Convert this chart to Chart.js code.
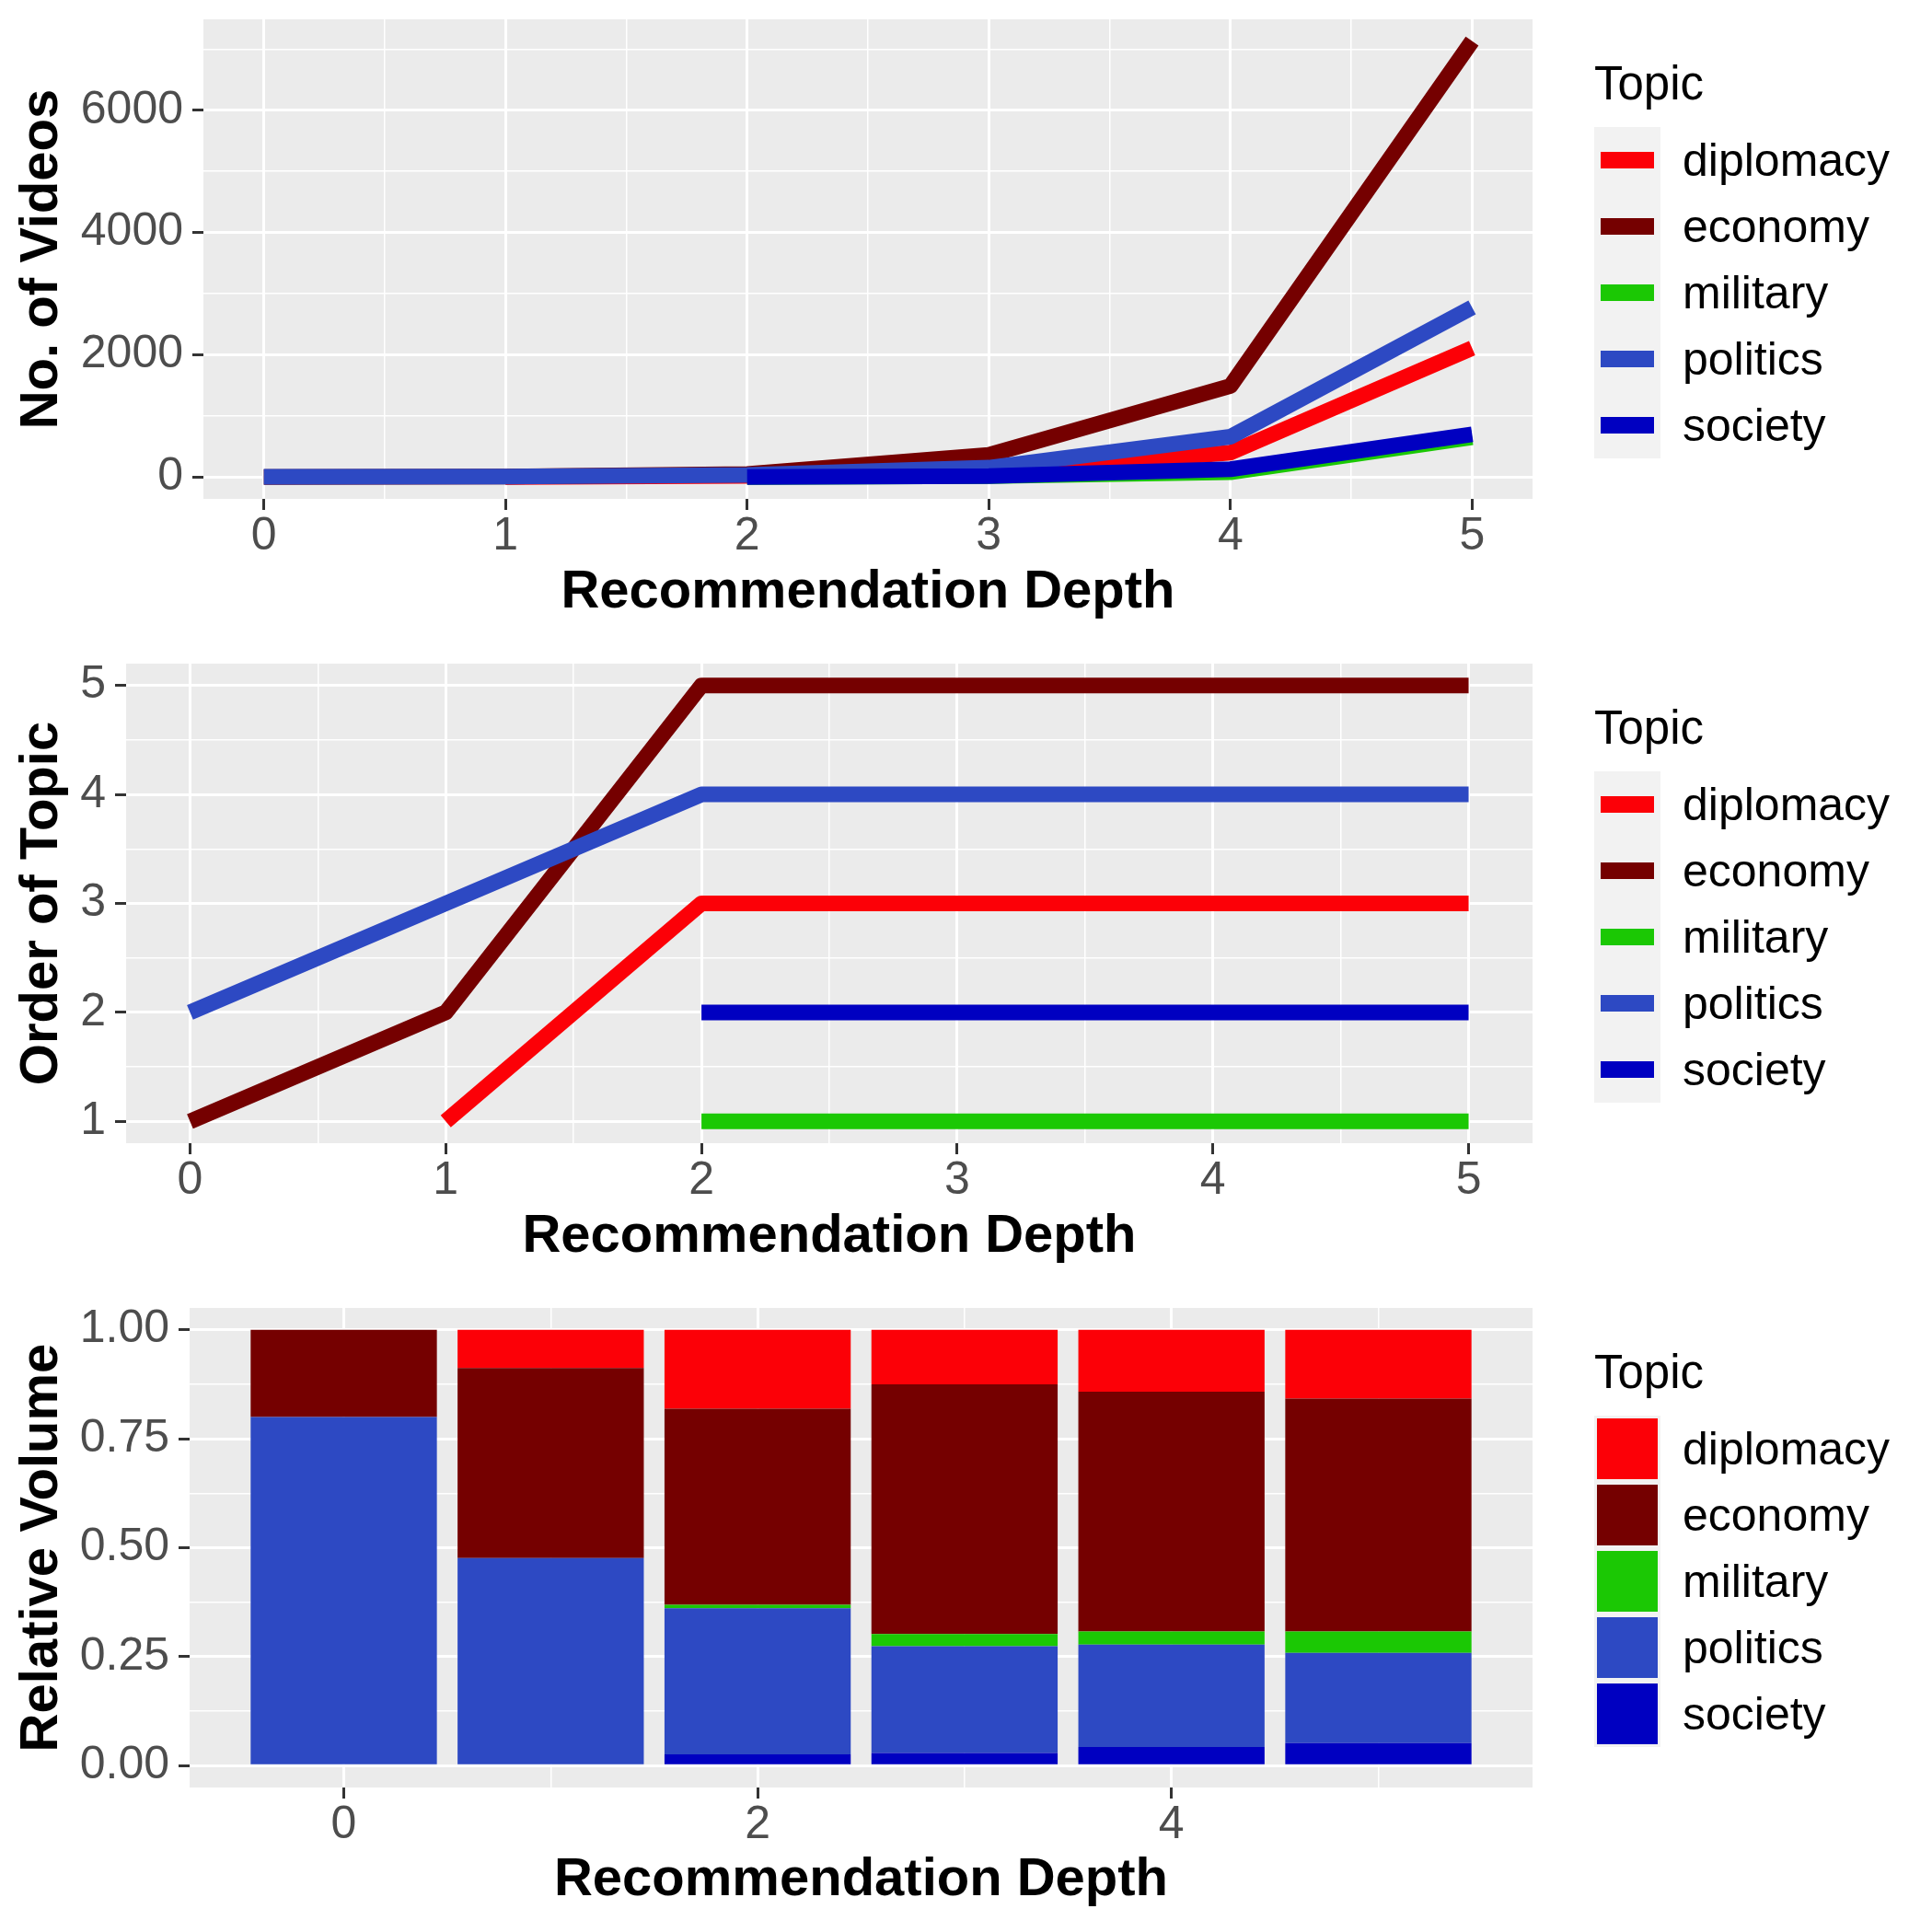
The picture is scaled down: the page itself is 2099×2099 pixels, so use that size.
<!DOCTYPE html>
<html>
<head>
<meta charset="utf-8">
<script src="https://cdn.jsdelivr.net/npm/chart.js@4"></script>
<style>
html,body{margin:0;padding:0;background:#ffffff;}
#page{position:relative;width:2099px;height:2099px;overflow:hidden;font-family:"Liberation Sans",Arial,Helvetica,sans-serif;}
#page canvas{position:absolute;left:0;}
.legend{position:absolute;left:1732px;width:360px;height:440px;}
.ltitle{position:absolute;left:0;top:0;font-size:51px;line-height:50px;color:#000;white-space:nowrap;}
.row{position:absolute;left:0;height:72px;width:360px;}
.key{position:absolute;left:0;top:0;width:72px;height:72px;background:#F2F2F2;}
.kline{position:absolute;left:7px;top:27px;width:58px;height:18px;}
.kfill{position:absolute;left:3px;top:3px;width:66px;height:66px;}
.lab{position:absolute;left:96px;top:0;height:72px;display:flex;align-items:center;font-size:50px;color:#000;white-space:nowrap;}
</style>
</head>
<body>
<div id="page">
  <canvas id="c1" width="2099" height="700" style="top:0px;width:2099px;height:700px"></canvas>
  <canvas id="c2" width="2099" height="700" style="top:700px;width:2099px;height:700px"></canvas>
  <canvas id="c3" width="2099" height="699" style="top:1400px;width:2099px;height:699px"></canvas>
</div>
<script>
// ---------- data ----------
const depths = [0, 1, 2, 3, 4, 5];
const topics = ['diplomacy', 'economy', 'military', 'politics', 'society'];
const topicColors = ['#FC0007', '#750000', '#1BC804', '#2D49C3', '#0000C1'];

// Panel 1: No. of Videos per recommendation depth
const diplomacyVideos = [null, 2, 20, 79, 400, 2110];
const economyVideos   = [1, 10, 50, 363, 1490, 7130];
const militaryVideos  = [null, null, 1, 18, 80, 650];
const politicsVideos  = [4, 11, 37, 155, 660, 2775];
const societyVideos   = [null, null, 3, 18, 130, 700];

// Panel 2: Order of Topic
const diplomacyOrder = [null, 1, 3, 3, 3, 3];
const economyOrder   = [1, 2, 5, 5, 5, 5];
const militaryOrder  = [null, null, 1, 1, 1, 1];
const politicsOrder  = [2, 3, 4, 4, 4, 4];
const societyOrder   = [null, null, 2, 2, 2, 2];

// Panel 3: Relative Volume
const diplomacyShare = [0, 0.088, 0.181, 0.125, 0.142, 0.158];
const economyShare   = [0.200, 0.436, 0.450, 0.573, 0.550, 0.534];
const militaryShare  = [0, 0, 0.008, 0.028, 0.030, 0.049];
const politicsShare  = [0.800, 0.476, 0.335, 0.245, 0.235, 0.207];
const societyShare   = [0, 0, 0.026, 0.029, 0.043, 0.052];

// tick breaks
const depthBreaks = [0, 1, 2, 3, 4, 5];
const depthMinor = [0.5, 1.5, 2.5, 3.5, 4.5];
const videoBreaks = [0, 2000, 4000, 6000];
const videoMinor = [1000, 3000, 5000, 7000];
const orderBreaks = [1, 2, 3, 4, 5];
const orderMinor = [1.5, 2.5, 3.5, 4.5];
const barDepthBreaks = [0, 2, 4];
const barDepthMinor = [1, 3, 5];
const shareBreaks = [0, 0.25, 0.5, 0.75, 1];
const shareMinor = [0.125, 0.375, 0.625, 0.875];

const xTitle = 'Recommendation Depth';
const yTitles = ['No. of Videos', 'Order of Topic', 'Relative Volume'];
const legendTitle = 'Topic';

// ---------- helpers ----------
const FONT = '"Liberation Sans", Arial, Helvetica, sans-serif';

function rangeOf(arrs, pad) {
  let lo = Infinity, hi = -Infinity;
  arrs.forEach(a => a.forEach(v => { if (v !== null && v !== undefined) { lo = Math.min(lo, v); hi = Math.max(hi, v); } }));
  const e = (hi - lo) * pad;
  return [lo - e, hi + e];
}

function axis(cfg) {
  const isMajor = v => cfg.major.some(m => Math.abs(m - v) < 1e-9);
  const left = cfg.pos === 'left';
  return {
    type: 'linear',
    position: cfg.pos,
    min: cfg.min,
    max: cfg.max,
    bounds: 'data',
    offset: false,
    stacked: !!cfg.stacked,
    afterBuildTicks: s => {
      s.ticks = cfg.major.concat(cfg.minor).sort((a, b) => a - b).map(v => ({ value: v }));
    },
    afterFit: s => {
      if (left) s.width = cfg.size; else s.height = cfg.size;
      s.paddingTop = 0; s.paddingBottom = 0; s.paddingLeft = 0; s.paddingRight = 0;
    },
    grid: {
      offset: false,
      color: '#FFFFFF',
      lineWidth: c => (c.tick && isMajor(c.tick.value)) ? 3 : 1.5,
      drawTicks: true,
      tickLength: 12,
      tickWidth: 3,
      tickColor: c => (c.tick && isMajor(c.tick.value)) ? '#333333' : 'rgba(0,0,0,0)'
    },
    border: { display: false },
    ticks: {
      autoSkip: false,
      maxRotation: 0,
      minRotation: 0,
      padding: left ? 10 : 4,
      color: '#4D4D4D',
      font: { family: FONT, size: 50, lineHeight: 1 },
      callback: v => isMajor(v) ? cfg.fmt(v) : ''
    },
    title: {
      display: true,
      text: cfg.title,
      color: '#000000',
      font: { family: FONT, size: 58, weight: 'bold' },
      padding: left ? { top: 11, bottom: 0 } : { top: 0, bottom: 21 }
    }
  };
}

const panelBg = {
  id: 'panelBg',
  beforeDraw(chart) {
    const { ctx, chartArea: a } = chart;
    ctx.save();
    ctx.fillStyle = '#EBEBEB';
    ctx.fillRect(a.left, a.top, a.right - a.left, a.bottom - a.top);
    ctx.restore();
  }
};

function lineDatasets(seriesList) {
  return seriesList.map((s, i) => ({
    label: topics[i],
    data: depths.map((d, j) => ({ x: d, y: s[j] })),
    borderColor: topicColors[i],
    backgroundColor: topicColors[i],
    borderWidth: 17,
    borderCapStyle: 'butt',
    borderJoinStyle: 'round',
    pointRadius: 0,
    pointHoverRadius: 0,
    tension: 0,
    spanGaps: false,
    fill: false,
    order: topics.length - i
  }));
}

function baseOptions(padTop, xAxis, yAxis) {
  return {
    responsive: false,
    animation: false,
    devicePixelRatio: 1,
    layout: { padding: { left: 0, right: 2099 - 1665, top: padTop, bottom: 0 } },
    plugins: { legend: { display: false }, tooltip: { enabled: false } },
    scales: { x: xAxis, y: yAxis }
  };
}

// ---------- panel 1 ----------
const videoSeries = [diplomacyVideos, economyVideos, militaryVideos, politicsVideos, societyVideos];
const vr = rangeOf(videoSeries, 0.05);
const dr = rangeOf([depths], 0.05);
new Chart(document.getElementById('c1'), {
  type: 'line',
  data: { datasets: lineDatasets(videoSeries) },
  options: baseOptions(21,
    axis({ pos: 'bottom', min: dr[0], max: dr[1], major: depthBreaks, minor: depthMinor, fmt: v => String(v), size: 158, title: xTitle }),
    axis({ pos: 'left', min: vr[0], max: vr[1], major: videoBreaks, minor: videoMinor, fmt: v => String(v), size: 221, title: yTitles[0] })),
  plugins: [panelBg]
});

// ---------- panel 2 ----------
const orderSeries = [diplomacyOrder, economyOrder, militaryOrder, politicsOrder, societyOrder];
const orr = rangeOf(orderSeries, 0.05);
new Chart(document.getElementById('c2'), {
  type: 'line',
  data: { datasets: lineDatasets(orderSeries) },
  options: baseOptions(21,
    axis({ pos: 'bottom', min: dr[0], max: dr[1], major: depthBreaks, minor: depthMinor, fmt: v => String(v), size: 158, title: xTitle }),
    axis({ pos: 'left', min: orr[0], max: orr[1], major: orderBreaks, minor: orderMinor, fmt: v => String(v), size: 137, title: yTitles[1] })),
  plugins: [panelBg]
});

// ---------- panel 3 ----------
const shareSeries = [diplomacyShare, economyShare, militaryShare, politicsShare, societyShare];
const barW = 0.9;
const bxr = rangeOf([[depths[0] - barW / 2, depths[depths.length - 1] + barW / 2]], 0.05);
const byr = rangeOf([[0, 1]], 0.05);
new Chart(document.getElementById('c3'), {
  type: 'bar',
  data: {
    datasets: shareSeries.map((s, i) => ({
      label: topics[i],
      data: depths.map((d, j) => ({ x: d, y: s[j] })),
      backgroundColor: topicColors[i],
      borderWidth: 0,
      barPercentage: barW,
      categoryPercentage: 1.0,
      order: topics.length - i
    }))
  },
  options: baseOptions(21,
    axis({ pos: 'bottom', min: bxr[0], max: bxr[1], major: barDepthBreaks, minor: barDepthMinor, fmt: v => String(v), size: 157, title: xTitle, stacked: true }),
    axis({ pos: 'left', min: byr[0], max: byr[1], major: shareBreaks, minor: shareMinor, fmt: v => v.toFixed(2), size: 206, title: yTitles[2], stacked: true })),
  plugins: [panelBg]
});

// ---------- legends ----------
function makeLegend(sliceTop, filled) {
  const page = document.getElementById('page');
  const lg = document.createElement('div');
  lg.className = 'legend';
  lg.style.top = (sliceTop + 66) + 'px';
  const t = document.createElement('div');
  t.className = 'ltitle';
  t.textContent = legendTitle;
  lg.appendChild(t);
  topics.forEach((name, i) => {
    const row = document.createElement('div');
    row.className = 'row';
    row.style.top = (72 + i * 72) + 'px';
    const key = document.createElement('div');
    key.className = 'key';
    const mark = document.createElement('div');
    mark.className = filled ? 'kfill' : 'kline';
    mark.style.background = topicColors[i];
    key.appendChild(mark);
    const lab = document.createElement('div');
    lab.className = 'lab';
    lab.textContent = name;
    row.appendChild(key);
    row.appendChild(lab);
    lg.appendChild(row);
  });
  page.appendChild(lg);
}
makeLegend(0, false);
makeLegend(700, false);
makeLegend(1400, true);
</script>
</body>
</html>
